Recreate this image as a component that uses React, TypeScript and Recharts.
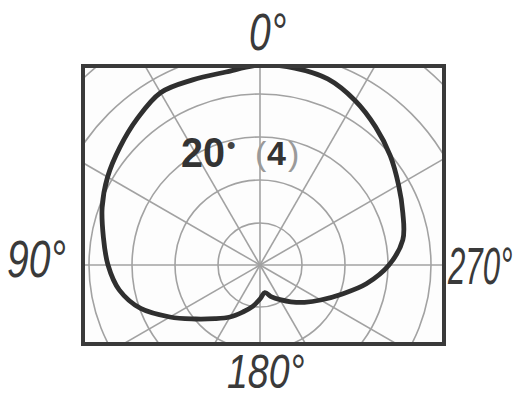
import React from "react";
import {
  RadarChart,
  Radar,
  PolarGrid,
  PolarAngleAxis,
  PolarRadiusAxis,
} from "recharts";

// Bearing of each sample, degrees (0 at top, increasing counter-clockwise)
const BEARINGS = [
  0, 10, 20, 30, 40, 50, 60, 70, 80, 90, 100, 110, 120, 130, 140, 150, 160, 170,
  180, 190, 200, 210, 220, 230, 240, 250, 260, 270, 280, 290, 300, 310, 320, 330,
  340, 350,
];

// Relative field strength at each bearing
const GAIN = [
  0.98, 0.985, 0.995, 0.955, 0.915, 0.88, 0.84, 0.795, 0.76, 0.715, 0.635, 0.52,
  0.42, 0.35, 0.3, 0.25, 0.21, 0.17, 0.14, 0.17, 0.2, 0.24, 0.29, 0.35, 0.43,
  0.54, 0.645, 0.725, 0.76, 0.8, 0.85, 0.9, 0.95, 0.99, 1.0, 1.0,
];

// Grid rings (px) and spokes (deg)
const RING_RADII = [42, 85, 128, 171, 214, 257];
const SPOKE_ANGLES = [0, 30, 60, 90, 120, 150, 180, 210, 240, 270, 300, 330];

// Cardinal bearing captions around the frame
const CARDINAL_LABELS = ["0°", "90°", "180°", "270°"];

const CAPTION_MAIN = "20";
const CAPTION_DOT = "•";
const CAPTION_MODE = "4";

const data = BEARINGS.map((b, i) => ({ bearing: b, gain: GAIN[i] }));

type Pt = { x: number; y: number };

// Closed Catmull-Rom spline through the radar vertices
function smoothClosed(points: Pt[]): string {
  const n = points.length;
  if (n < 3) return "";
  let d = `M${points[0].x},${points[0].y}`;
  for (let i = 0; i < n; i++) {
    const p0 = points[(i - 1 + n) % n];
    const p1 = points[i];
    const p2 = points[(i + 1) % n];
    const p3 = points[(i + 2) % n];
    const c1x = p1.x + (p2.x - p0.x) / 6;
    const c1y = p1.y + (p2.y - p0.y) / 6;
    const c2x = p2.x - (p3.x - p1.x) / 6;
    const c2y = p2.y - (p3.y - p1.y) / 6;
    d += ` C${c1x},${c1y} ${c2x},${c2y} ${p2.x},${p2.y}`;
  }
  return d + " Z";
}

const PatternShape = (props: any) => (
  <path
    d={smoothClosed(props.points || [])}
    fill="none"
    stroke="#2f2f2f"
    strokeWidth={4.8}
    strokeLinejoin="round"
  />
);

// Condensed italic caption: baseline at (x, y), squeezed horizontally by sx
const Cardinal = ({ x, y, sx, size, children }: any) => (
  <text
    transform={`translate(${x},${y}) scale(${sx},1)`}
    x={0}
    y={0}
    fontSize={size}
  >
    {children}
  </text>
);

export default function App() {
  return (
    <div
      style={{
        position: "absolute",
        left: 0,
        top: 0,
        width: 520,
        height: 398,
        background: "#ffffff",
        overflow: "hidden",
      }}
    >
      <div
        style={{
          position: "absolute",
          left: 81,
          top: 64,
          width: 365,
          height: 282,
          boxSizing: "border-box",
          border: "4px solid #3a3a3a",
          overflow: "hidden",
          background: "#fdfdfd",
        }}
      >
        <RadarChart
          width={357}
          height={274}
          cx={175}
          cy={197}
          innerRadius={0}
          outerRadius={240}
          startAngle={90}
          endAngle={450}
          data={data}
          margin={{ top: 0, right: 0, bottom: 0, left: 0 }}
        >
          <PolarGrid
            gridType="circle"
            polarRadius={RING_RADII}
            polarAngles={SPOKE_ANGLES}
            stroke="#a2a2a2"
            strokeWidth={1.6}
          />
          <PolarAngleAxis dataKey="bearing" tick={false} axisLine={false} />
          <PolarRadiusAxis
            type="number"
            domain={[0, 1.2]}
            allowDataOverflow
            tick={false}
            axisLine={false}
          />
          <Radar
            dataKey="gain"
            isAnimationActive={false}
            dot={false}
            shape={PatternShape}
          />
        </RadarChart>
      </div>

      <svg
        width={520}
        height={398}
        style={{ position: "absolute", left: 0, top: 0, pointerEvents: "none" }}
      >
        <g
          fontFamily="'Liberation Sans', Arial, sans-serif"
          fontStyle="italic"
          fill="#3a3a3a"
        >
          <Cardinal x={249} y={50} sx={0.75} size={52}>
            {CARDINAL_LABELS[0]}
          </Cardinal>
          <Cardinal x={7} y={277} sx={0.75} size={52}>
            {CARDINAL_LABELS[1]}
          </Cardinal>
          <Cardinal x={227} y={388} sx={0.78} size={48}>
            {CARDINAL_LABELS[2]}
          </Cardinal>
          <Cardinal x={448} y={284} sx={0.6} size={52}>
            {CARDINAL_LABELS[3]}
          </Cardinal>
        </g>
        <g fontFamily="'Liberation Sans', Arial, sans-serif">
          <text x={181} y={167} fontSize={42} fontWeight="bold" fill="#333" textLength={44} lengthAdjust="spacingAndGlyphs">
            {CAPTION_MAIN}
          </text>
          <text x={227} y={153} fontSize={24} fontWeight="bold" fill="#444">
            {CAPTION_DOT}
          </text>
          <text x={255} y={165} fontSize={34} fill="#9a9a9a">
            (
          </text>
          <text x={267} y={165} fontSize={34} fontWeight="bold" fill="#333">
            {CAPTION_MODE}
          </text>
          <text x={288} y={165} fontSize={34} fill="#9a9a9a">
            )
          </text>
        </g>
      </svg>
    </div>
  );
}
